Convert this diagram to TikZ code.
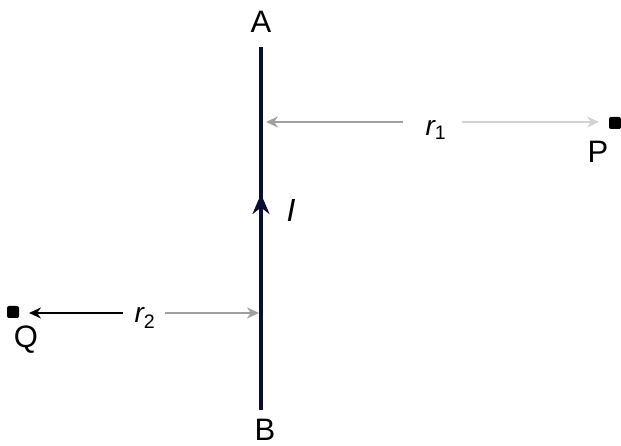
\documentclass[tikz,border=0pt]{standalone}
\usepackage{fontspec}
\setmainfont{Liberation Sans}
\usetikzlibrary{arrows.meta}
\begin{document}
\begin{tikzpicture}[x=1pt,y=1pt,
  lbl/.style={font=\fontsize{31}{34}\selectfont, inner sep=0pt},
  dlbl/.style={font=\fontsize{28}{30}\selectfont\itshape, inner sep=0pt},
  wire/.style={line width=3.5pt, draw={rgb,255:red,10;green,15;blue,50}},
  dim/.style={line width=2.5pt, draw=gray!75, -{Stealth[length=12pt,width=11pt]}},
  diml/.style={dim, draw=gray!35},
  dimk/.style={dim, draw=black},
  pt/.style={rectangle, rounded corners=2pt, fill=black, inner sep=0pt, minimum size=12pt}]
\useasboundingbox (0,0) rectangle (621,446);
\node[lbl] (A) at (261,424) {A};
\node[lbl] (B) at (265,16) {B};
\coordinate (top) at (261,399);
\coordinate (bot) at (261,36);
\coordinate (mid) at (261,252);
\draw[wire] (bot) -- (top);
\draw[wire, -{Stealth[length=20pt,width=17pt]}] (bot) -- (mid);
\node[font=\fontsize{32}{34}\selectfont\itshape, inner sep=0pt] (I) at (291,236) {I};
% r1
\node[pt] (P) at (615,323) {};
\node[lbl] (Pl) at (598,294) {P};
\node[dlbl] (r1) at (436,316) {r\textsubscript{\upshape 1}};
\coordinate (r1L) at (266,324);
\coordinate (r1R) at (599,324);
\coordinate (r1a) at (403,324);
\coordinate (r1b) at (462,324);
\draw[dim] (r1a) -- (r1L);
\draw[diml] (r1b) -- (r1R);
% r2
\node[pt] (Q) at (13,134) {};
\node[lbl] (Ql) at (26,106) {Q};
\node[dlbl] (r2) at (145,128) {r\textsubscript{\upshape 2}};
\coordinate (r2L) at (29,133);
\coordinate (r2R) at (259,133);
\coordinate (r2a) at (123,133);
\coordinate (r2b) at (165,133);
\draw[dimk] (r2a) -- (r2L);
\draw[dim] (r2b) -- (r2R);
\end{tikzpicture}
\end{document}
